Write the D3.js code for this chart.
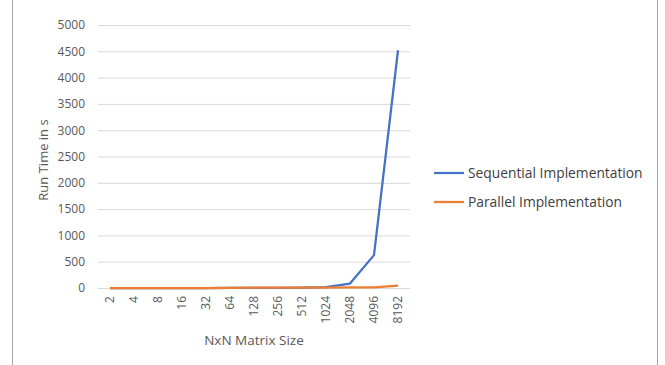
<!DOCTYPE html>
<html><head><meta charset="utf-8">
<script src="https://cdn.jsdelivr.net/npm/d3@7"></script>
<style>body{margin:0;background:#fff;}svg{display:block;}</style>
</head><body>
<script>
const categories = ["2","4","8","16","32","64","128","256","512","1024","2048","4096","8192"];
const sequential = [0,0,0,0,0,1,3,4,6,15,85,625,4520];
const parallel = [0,0,0,0,0,1,5,6,7,8,10,12,45];
const seriesNames = ["Sequential Implementation","Parallel Implementation"];
const yTicks = [0,500,1000,1500,2000,2500,3000,3500,4000,4500,5000];

const W=665,H=365;
const svg=d3.select("body").append("svg").attr("width",W).attr("height",H);
const font="'Open Sans', 'Noto Sans', sans-serif";
svg.append("line").attr("x1",12.5).attr("x2",12.5).attr("y1",0).attr("y2",H).attr("stroke","#a6a6a6");
svg.append("line").attr("x1",657.5).attr("x2",657.5).attr("y1",0).attr("y2",H).attr("stroke","#a6a6a6");

const x=d3.scaleBand().domain(categories).range([98,410]);
const y=d3.scaleLinear().domain([0,5000]).range([288,25]);

const gy=svg.append("g").attr("transform","translate(98,0)")
  .call(d3.axisLeft(y).tickValues(yTicks).tickSize(-312).tickPadding(13).tickFormat(d3.format("d")));
gy.select(".domain").remove();
gy.selectAll(".tick line").attr("stroke","#d9d9d9").attr("stroke-width",1);
gy.selectAll(".tick text").attr("fill","#595959").style("font-family",font).style("font-size","12px");

const gx=svg.append("g").attr("transform","translate(0,288)")
  .call(d3.axisBottom(x).tickSize(0).tickPadding(6));
gx.select(".domain").remove();
gx.selectAll(".tick text").attr("fill","#595959").style("font-family",font).style("font-size","12px")
  .attr("transform","rotate(-90)").attr("text-anchor","end").attr("dx","0").attr("dy","0.32em").attr("y",0).attr("x",-8);

const line=d3.line().x((d,i)=>x(categories[i])+x.bandwidth()/2).y(d=>y(d));
const colors=["#4472c4","#ed7d31"];
[sequential,parallel].forEach((s,i)=>{
  svg.append("path").datum(s).attr("d",line).attr("fill","none").attr("stroke",colors[i]).attr("stroke-width",2.25).attr("stroke-linejoin","round");
});

svg.append("text").attr("transform","translate(48,160) rotate(-90)").attr("text-anchor","middle")
  .attr("fill","#595959").style("font-family",font).style("font-size","13px").text("Run Time in s");
svg.append("text").attr("x",254).attr("y",345).attr("text-anchor","middle")
  .attr("fill","#595959").style("font-family",font).style("font-size","13.5px").text("NxN Matrix Size");

seriesNames.forEach((n,i)=>{
  const yy=173+i*29;
  svg.append("line").attr("x1",434).attr("x2",464).attr("y1",yy).attr("y2",yy).attr("stroke",colors[i]).attr("stroke-width",2.25);
  svg.append("text").attr("x",468).attr("y",yy).attr("dy","0.35em").attr("fill","#404040")
    .style("font-family",font).style("font-size","13.8px").text(n);
});
</script>
</body></html>
